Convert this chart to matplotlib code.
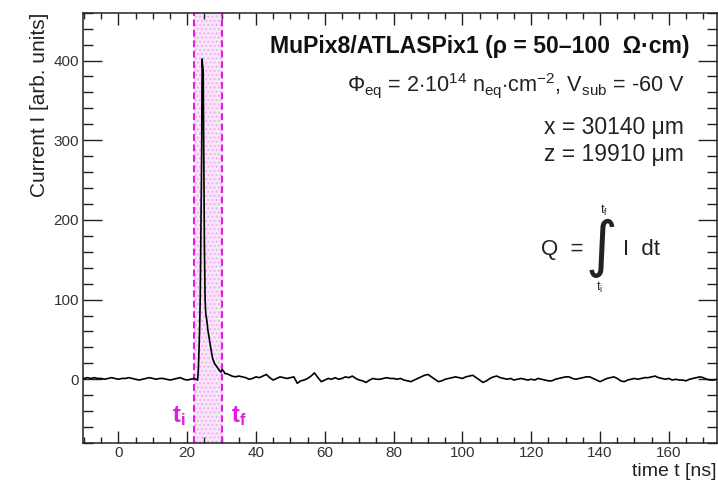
import matplotlib
matplotlib.use("Agg")
import matplotlib.pyplot as plt
import numpy as np
from matplotlib.ticker import MultipleLocator

# Sampled current waveform (arb. units), 1 ns grid before and after the pulse
PRE_T0, PRE_T1 = -10, 22
pre_current = [
    1, 2, 1, 2, 1, 1, 0, 1, 2, 1,
    0, 1, 1, 2, 1, 0, -1, 0, 1, 2,
    1, 0, 1, 1, 0, -1, 0, 1, 2, 0,
    -1, 0, 1,
]

# Pulse region, finer sampling
pulse_time = [22.5, 23.0, 23.2, 23.4, 23.6, 23.8, 24.0, 24.2, 24.35, 24.5,
              24.65, 24.8, 25.0, 25.2, 25.4, 25.7, 26.0, 26.4, 26.9, 27.4,
              27.9, 28.4, 28.9, 29.4, 29.8, 30.2, 30.6, 31.0, 31.5]
pulse_current = [0, -1, 8, 32, 62, 105, 190, 280, 402, 392,
                 388, 300, 170, 100, 82, 74, 62, 51, 38, 26,
                 20, 17, 14, 11, 9, 12, 10, 7, 7]

POST_T0, POST_T1 = 32, 174
post_current = [
    6, 4, 3, 4, 3, 2, 0, 1, 3, 2,
    4, 6, 2, -1, 1, 3, 2, 1, 2, 3,
    -5, -2, -1, 1, 4, 8, 2, -3, -1, 1,
    0, 2, 0, 1, 3, 2, 4, 1, -1, -2,
    -4, -1, 1, 0, 0, 1, 2, 1, 1, 0,
    1, -1, -2, -3, -1, 1, 3, 5, 6, 3,
    0, -3, -2, 0, 1, 2, 3, 2, 1, 3,
    4, 5, 2, -1, -4, -2, 1, 3, 4, 2,
    1, 0, 1, -1, 0, 1, 0, -1, 0, -1,
    1, 0, -1, -2, -2, 0, 1, 2, 3, 3,
    1, 0, 1, 2, 3, 3, 1, -1, -3, -1,
    1, 2, 3, 1, -2, -3, -1, 0, 1, 0,
    1, 2, 2, 3, 4, 2, 1, 0, 1, -1,
    0, -1, -1, -2, 0, 1, 2, 3, 2, 0,
    -1, -1, 0,
]

# Integration window
t_i, t_f = 22.0, 30.0

title_line = "MuPix8/ATLASPix1 (\u03c1 = 50\u2013100  \u03a9\u00b7cm)"
fluence_line = (r"$\Phi_{\rm eq}$ = 2$\cdot$10$^{14}$ n$_{\rm eq}$$\cdot$cm$^{-2}$, "
                r"V$_{\rm sub}$ = -60 V")
pos_lines = ["x = 30140 \u03bcm", "z = 19910 \u03bcm"]

W, H = 718, 488
MAGENTA = "#e31ce3"
INK = "#222222"


def px(x, y):
    # pixel position (from top-left) -> figure fraction
    return x / W, 1 - y / H


def main() -> int:
    plt.rcParams["font.family"] = ["Liberation Sans", "DejaVu Sans"]
    plt.rcParams["mathtext.fontset"] = "custom"
    plt.rcParams["mathtext.rm"] = "Liberation Sans"
    plt.rcParams["mathtext.it"] = "Liberation Sans:italic"
    plt.rcParams["mathtext.bf"] = "Liberation Sans:bold"
    plt.rcParams["hatch.linewidth"] = 1.0

    time = np.concatenate([np.arange(PRE_T0, PRE_T1 + 1), pulse_time,
                           np.arange(POST_T0, POST_T1 + 1)])
    current = np.concatenate([pre_current, pulse_current, post_current])

    fig = plt.figure(figsize=(W / 100, H / 100), dpi=100)
    l, b = 83.3 / W, (H - 443) / H
    ax = fig.add_axes([l, b, (717 - 83.3) / W, (443 - 12.7) / H])

    ax.axvspan(t_i, t_f, facecolor="#fae6fa", edgecolor="#eab4ea",
               hatch="....", linewidth=0, zorder=1)
    for t in (t_i, t_f):
        ax.axvline(t, color=MAGENTA, lw=1.5, ls=(0, (3.3, 1.7)), zorder=2)

    ax.plot(time, current, color="black", lw=1.2, zorder=3)

    ax.set_xlim(-10.2, 174.0)
    ax.set_ylim(-80, 460)

    ax.xaxis.set_major_locator(MultipleLocator(20))
    ax.xaxis.set_minor_locator(MultipleLocator(5))
    ax.yaxis.set_major_locator(MultipleLocator(100))
    ax.yaxis.set_minor_locator(MultipleLocator(20))
    ax.tick_params(axis="both", which="both", direction="in",
                   top=True, right=True, width=1.0, colors=INK,
                   labelsize=11, labelcolor="#333333")
    ax.tick_params(axis="x", which="major", length=8.6, pad=2.5)
    ax.tick_params(axis="x", which="minor", length=4.3)
    ax.tick_params(axis="y", which="major", length=13.7, pad=3)
    ax.tick_params(axis="y", which="minor", length=7)
    for sp in ax.spines.values():
        sp.set_linewidth(1.1)
        sp.set_color(INK)

    ax.set_xlabel("time t [ns]", loc="right", fontsize=14, color=INK,
                  labelpad=2)
    ax.set_ylabel("Current I [arb. units]", loc="top", fontsize=15,
                  color=INK, labelpad=3)

    ax.text(17.4, -46, r"$\mathbf{t_{i}}$", color=MAGENTA, fontsize=17,
            ha="center", va="center")
    ax.text(35.0, -46, r"$\mathbf{t_{f}}$", color=MAGENTA, fontsize=17,
            ha="center", va="center")

    # info box, right aligned
    fig.text(*px(689, 53), title_line, fontsize=16.6, fontweight="bold",
             ha="right", va="baseline", color="#111111")
    fig.text(*px(685, 91), fluence_line, fontsize=15.6, ha="right",
             va="baseline", color=INK)
    fig.text(*px(684, 134), pos_lines[0], fontsize=16.5, ha="right",
             va="baseline", color=INK)
    fig.text(*px(684, 161), pos_lines[1], fontsize=16.5, ha="right",
             va="baseline", color=INK)

    # charge integral
    fig.text(*px(541, 255), "Q  =", fontsize=16, ha="left", va="baseline",
             color=INK)
    fig.text(*px(601, 248), "\u222b", fontsize=44, ha="center", va="center",
             color=INK, family="DejaVu Sans")
    fig.text(*px(604, 210), r"t$_{\rm f}$", fontsize=9, ha="center",
             va="center", color=INK)
    fig.text(*px(600, 287), r"t$_{\rm i}$", fontsize=9, ha="center",
             va="center", color=INK)
    fig.text(*px(623, 255), "I  dt", fontsize=16, ha="left", va="baseline",
             color=INK)

    fig.savefig("out.png", dpi=100)
    plt.close(fig)
    return 0


if __name__ == "__main__":
    raise SystemExit(main())
